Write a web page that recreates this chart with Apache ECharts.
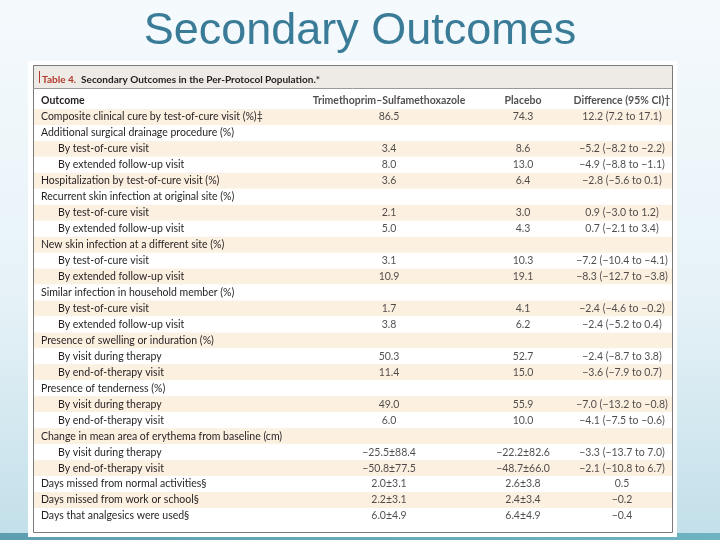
<!DOCTYPE html>
<html>
<head>
<meta charset="utf-8">
<script src="https://cdn.jsdelivr.net/npm/echarts@6/dist/echarts.min.js"></script>
<style>html,body{margin:0;padding:0;}#c{width:720px;height:540px;}</style>
</head>
<body>
<div id="c"></div>
<script>
const slideTitle = 'Secondary Outcomes';
const tableTitleLead = 'Table 4.';
const tableTitleRest = 'Secondary Outcomes in the Per-Protocol Population.*';
const columnHeaders = ['Outcome', 'Trimethoprim–Sulfamethoxazole', 'Placebo', 'Difference (95% CI)†'];

const outcomes = [
  'Composite clinical cure by test-of-cure visit (%)‡',
  'Additional surgical drainage procedure (%)',
  'By test-of-cure visit',
  'By extended follow-up visit',
  'Hospitalization by test-of-cure visit (%)',
  'Recurrent skin infection at original site (%)',
  'By test-of-cure visit',
  'By extended follow-up visit',
  'New skin infection at a different site (%)',
  'By test-of-cure visit',
  'By extended follow-up visit',
  'Similar infection in household member (%)',
  'By test-of-cure visit',
  'By extended follow-up visit',
  'Presence of swelling or induration (%)',
  'By visit during therapy',
  'By end-of-therapy visit',
  'Presence of tenderness (%)',
  'By visit during therapy',
  'By end-of-therapy visit',
  'Change in mean area of erythema from baseline (cm)',
  'By visit during therapy',
  'By end-of-therapy visit',
  'Days missed from normal activities§',
  'Days missed from work or school§',
  'Days that analgesics were used§'
];
const outcomeLevels = [0,0,1,1,0,0,1,1,0,1,1,0,1,1,0,1,1,0,1,1,0,1,1,0,0,0];

const tmpSmxValues = ['86.5','','3.4','8.0','3.6','','2.1','5.0','','3.1','10.9','','1.7','3.8','','50.3','11.4','','49.0','6.0','','−25.5±88.4','−50.8±77.5','2.0±3.1','2.2±3.1','6.0±4.9'];
const placeboValues = ['74.3','','8.6','13.0','6.4','','3.0','4.3','','10.3','19.1','','4.1','6.2','','52.7','15.0','','55.9','10.0','','−22.2±82.6','−48.7±66.0','2.6±3.8','2.4±3.4','6.4±4.9'];
const differenceValues = ['12.2 (7.2 to 17.1)','','−5.2 (−8.2 to −2.2)','−4.9 (−8.8 to −1.1)','−2.8 (−5.6 to 0.1)','','0.9 (−3.0 to 1.2)','0.7 (−2.1 to 3.4)','','−7.2 (−10.4 to −4.1)','−8.3 (−12.7 to −3.8)','','−2.4 (−4.6 to −0.2)','−2.4 (−5.2 to 0.4)','','−2.4 (−8.7 to 3.8)','−3.6 (−7.9 to 0.7)','','−7.0 (−13.2 to −0.8)','−4.1 (−7.5 to −0.6)','','−3.3 (−13.7 to 7.0)','−2.1 (−10.8 to 6.7)','0.5','−0.2','−0.4'];

// layout (not data)
const FONT = 'Lato';
const FS = 10.5;
const TXT = '#231f20';
const colX = [0, 355, 489, 588];
const rowCats = [columnHeaders[0]].concat(outcomes);

function colSeries(colIdx, values) {
  const data = [[colX[colIdx], 0, columnHeaders[colIdx], 1]];
  values.forEach((v, i) => { if (v !== '') data.push([colX[colIdx], i + 1, v, 0]); });
  return {
    type: 'scatter', symbolSize: 0, silent: true, data: data,
    label: {
      show: true, position: 'inside', align: 'center', verticalAlign: 'middle',
      formatter: p => (p.value[3] ? '{h|' : '{n|') + p.value[2] + '}',
      rich: {
        h: { fontFamily: FONT, fontSize: FS, fontWeight: 'bold', color: TXT },
        n: { fontFamily: FONT, fontSize: FS, color: TXT }
      }
    }
  };
}

const chart = echarts.init(document.getElementById('c'), null, { renderer: 'canvas' });
chart.setOption({
  animation: false,
  backgroundColor: { type: 'linear', x: 0, y: 0, x2: 0, y2: 1, colorStops: [
    { offset: 0, color: '#f5fafd' }, { offset: 0.55, color: '#e6f2f7' }, { offset: 1, color: '#c2dfe9' } ] },
  title: [
    { text: slideTitle, left: 'center', top: 4,
      textStyle: { fontFamily: 'Liberation Sans', fontSize: 45, fontWeight: 'normal', color: '#3a7c97' } },
    { text: '{r|' + tableTitleLead + '} {b|' + tableTitleRest + '}', left: 42, top: 71, padding: 0,
      textStyle: { rich: {
        r: { fontFamily: FONT, fontSize: 10, fontWeight: 'bold', color: '#b23b2b' },
        b: { fontFamily: FONT, fontSize: 10, fontWeight: 'bold', color: TXT } } } }
  ],
  graphic: [
    { type: 'rect', z: -10, shape: { x: 0, y: 533, width: 720, height: 7 },
      style: { fill: { type: 'linear', x: 0, y: 0, x2: 1, y2: 0, colorStops: [
        { offset: 0, color: '#5d9fb0' }, { offset: 1, color: '#6fb3c2' } ] } } },
    { type: 'rect', z: -9, shape: { x: 28, y: 61, width: 649, height: 476 }, style: { fill: '#ffffff' } },
    { type: 'rect', z: -8, shape: { x: 33, y: 65, width: 639, height: 23 }, style: { fill: '#eeeae6' } },
    { type: 'rect', z: 50, shape: { x: 33.5, y: 65.5, width: 639, height: 467 }, style: { fill: 'none', stroke: '#7a7a7a', lineWidth: 1 } },
    { type: 'line', z: 50, shape: { x1: 33, y1: 88.5, x2: 672, y2: 88.5 }, style: { stroke: '#9a9a9a', lineWidth: 1 } },
    { type: 'line', z: 50, shape: { x1: 39.5, y1: 71, x2: 39.5, y2: 83 }, style: { stroke: '#b23b2b', lineWidth: 1 } }
  ],
  grid: { left: 34, right: 48, top: 93, bottom: 16, containLabel: false },
  xAxis: { type: 'value', min: 0, max: 638, show: false },
  yAxis: {
    type: 'category', inverse: true, data: rowCats,
    axisLine: { show: false }, axisTick: { show: false },
    splitLine: { show: false },
    splitArea: { show: true, interval: 0, areaStyle: { color: ['#ffffff', '#fcf0e1'] } },
    axisLabel: {
      inside: true, interval: 0, margin: 7, align: 'left',
      formatter: (v, i) => i === 0 ? '{h|' + v + '}' : (outcomeLevels[i - 1] ? '{i|' + v + '}' : '{n|' + v + '}'),
      rich: {
        h: { fontFamily: FONT, fontSize: FS, fontWeight: 'bold', color: TXT },
        n: { fontFamily: FONT, fontSize: FS, color: TXT },
        i: { fontFamily: FONT, fontSize: FS, color: TXT, padding: [0, 0, 0, 17] }
      }
    }
  },
  series: [
    colSeries(1, tmpSmxValues),
    colSeries(2, placeboValues),
    colSeries(3, differenceValues)
  ]
});
</script>
</body>
</html>
